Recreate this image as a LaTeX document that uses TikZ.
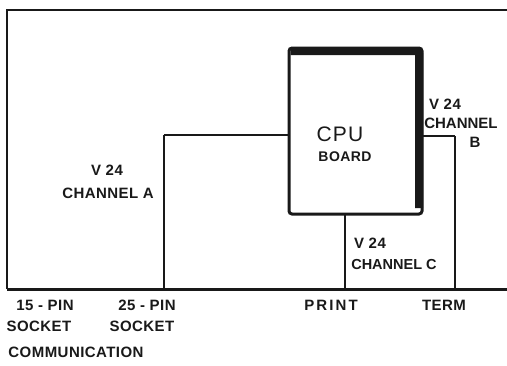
\documentclass[tikz,border=0pt]{standalone}
\usepackage{fontspec}
\setmainfont{Liberation Sans}
\usetikzlibrary{calc}
\begin{document}
\begin{tikzpicture}[x=1pt,y=-1pt,
  ink/.style={draw=black!90},
  lbl/.style={inner sep=0pt,font=\fontsize{15}{16}\selectfont\bfseries\addfontfeature{LetterSpace=3},text=black!90},
  big/.style={inner sep=0pt,font=\fontsize{21}{22}\selectfont\addfontfeature{LetterSpace=6},text=black!90},
  mid/.style={inner sep=0pt,font=\fontsize{14}{15}\selectfont\bfseries\addfontfeature{LetterSpace=3},text=black!90},
  wire/.style={ink,line width=1.3pt},
  wireh/.style={ink,line width=2.6pt}]
\useasboundingbox (0,0) rectangle (507,365);
\fill[white] (0,0) rectangle (507,365);
% outer frame (right side beyond the picture)
\draw[ink,line width=2.2pt] (508,10) -- (7,10) -- (7,289);
\draw[ink,line width=3pt] (7,289) -- (508,289);
% CPU board
\node[ink,line width=3pt,rounded corners=3pt,inner sep=0pt,outer sep=0pt,
  minimum width=133pt,minimum height=166pt] (cpu) at (355.5,131) {};
\draw[ink,line width=8pt,rounded corners=3pt] ($(cpu.north west)+(1.5,3)$) -- ($(cpu.north east)+(-3,3)$) -- ($(cpu.south east)+(-3,-6)$);
\node[big] (cpulbl) at (340,134) {CPU};
\node[mid] (board) at (345,157) {BOARD};
% bottom-edge end points
\coordinate (pa) at (164,289);
\coordinate (pc) at (345,289);
\coordinate (pb) at (455,289);
\coordinate (ka) at (164,135);
\coordinate (kb) at (455,136);
% channel A
\draw[wireh] (cpu.west |- ka) -- (ka);
\draw[wire] (ka) -- (pa);
% channel B
\draw[wireh] (cpu.east |- kb) -- (kb);
\draw[wire] (kb) -- (pb);
% channel C
\draw[wire] (cpu.south -| pc) -- (pc);
% labels
\node[lbl] (va) at (107,170) {V 24};
\node[lbl] (cha) at (108,193) {CHANNEL A};
\node[lbl] (vb) at (445,104) {V 24};
\node[lbl,font=\fontsize{15}{16}\selectfont\bfseries] (chb) at (461,123) {CHANNEL};
\node[lbl] (bb) at (475,142) {B};
\node[lbl] (vc) at (370,243) {V 24};
\node[lbl,font=\fontsize{14.5}{16}\selectfont\bfseries] (chc) at (394,265) {CHANNEL C};
\node[lbl] (p15) at (45,305) {15 - PIN};
\node[lbl] (s15) at (39,326) {SOCKET};
\node[lbl] (p25) at (147,305) {25 - PIN};
\node[lbl] (s25) at (142,326) {SOCKET};
\node[lbl,font=\fontsize{15}{16}\selectfont\bfseries\addfontfeature{LetterSpace=14}] (prt) at (331,305) {PRINT};
\node[lbl] (trm) at (444,305) {TERM};
\node[lbl] (com) at (76,352) {COMMUNICATION};
\end{tikzpicture}
\end{document}
